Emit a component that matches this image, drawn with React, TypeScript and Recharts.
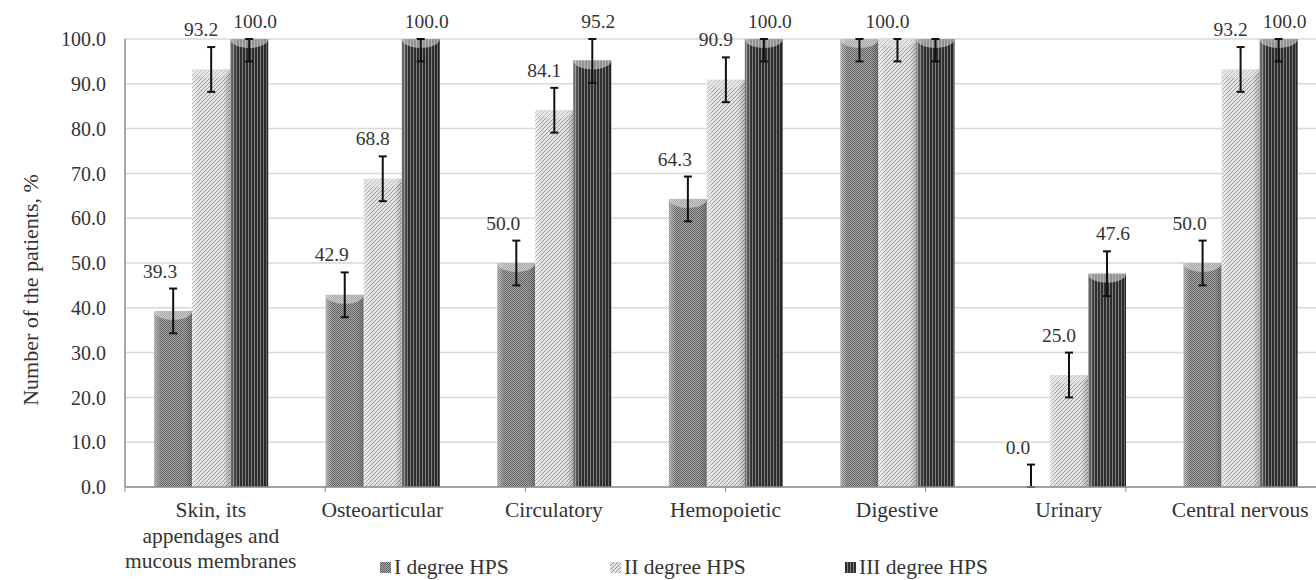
import React from "react";
import {
  BarChart,
  Bar,
  XAxis,
  YAxis,
  CartesianGrid,
  ErrorBar,
  LabelList,
  Legend,
} from "recharts";

const categories = [
  "Skin, its\nappendages and\nmucous membranes",
  "Osteoarticular",
  "Circulatory",
  "Hemopoietic",
  "Digestive",
  "Urinary",
  "Central nervous",
];
const degreeI = [39.3, 42.9, 50.0, 64.3, 100.0, 0.0, 50.0];
const degreeII = [93.2, 68.8, 84.1, 90.9, 100.0, 25.0, 93.2];
const degreeIII = [100.0, 100.0, 95.2, 100.0, 100.0, 47.6, 100.0];
const errorMargin = 5;
const yTicks = [0, 10, 20, 30, 40, 50, 60, 70, 80, 90, 100];
const edgeTicks = [0, 1, 2, 3, 4, 5, 6, 7];
const seriesNames = ["I degree HPS", "II degree HPS", "III degree HPS"];

const W = 1326;
const H = 580;
const TOP = 39;
const X_AXIS_H = 92;
const PLOT_H = H - TOP - X_AXIS_H - 1;
const PPU = PLOT_H / 100;
const FONT = "Liberation Serif, DejaVu Serif, serif";
const TEXT = "#333";

// error bars are clipped to the 0..100 range like in the original
const err = (v: number) => [Math.min(errorMargin, v), Math.min(errorMargin, 100 - v)];

const data = categories.map((name, i) => ({
  name,
  i: degreeI[i],
  ii: degreeII[i],
  iii: degreeIII[i],
  ei: err(degreeI[i]),
  eii: err(degreeII[i]),
  eiii: err(degreeIII[i]),
}));

const CylBar = (props: any) => {
  const { x, y, width, height, fill } = props;
  if (!height || height <= 0) return null;
  const ry = Math.min(9, height);
  return (
    <g>
      <rect x={x} y={y} width={width} height={height} fill={fill} />
      <rect x={x} y={y} width={width} height={height} fill="url(#shade)" />
      <path
        d={`M${x},${y} A${width / 2},${ry} 0 0 0 ${x + width},${y} Z`}
        fill="#e6e6e6"
        opacity={0.55}
      />
    </g>
  );
};

// labels sit a little off the bar centre so they clear the error bars
const labelShift: Record<string, number> = { i: -13, ii: -10, iii: 6 };

const makeLabel = (key: string) => (props: any) => {
  const { x, y, width, value, index } = props;
  if (categories[index] === "Digestive" && key !== "ii") return null;
  const up = Math.min(errorMargin, 100 - Number(value));
  return (
    <text
      x={x + width / 2 + labelShift[key]}
      y={y - up * PPU - 11}
      textAnchor="middle"
      fontSize={19.5}
      fontFamily={FONT}
      fill={TEXT}
    >
      {Number(value).toFixed(1)}
    </text>
  );
};

const CatTick = ({ x, y, payload }: any) => {
  const lines = String(payload.value).split("\n");
  return (
    <text x={x} y={y} textAnchor="middle" fontSize={21.5} fontFamily={FONT} fill={TEXT}>
      {lines.map((l, i) => (
        <tspan key={i} x={x} dy={i === 0 ? 29 : 25.5}>
          {l}
        </tspan>
      ))}
    </text>
  );
};

const legendFills = ["url(#pI)", "url(#pII)", "url(#pIII)"];
const legendLeft = [380, 610, 845];

const LegendBox = () => (
  <div style={{ position: "relative", height: 24 }}>
    {seriesNames.map((n, i) => (
      <div
        key={n}
        style={{
          position: "absolute",
          left: legendLeft[i],
          top: 0,
          display: "flex",
          alignItems: "center",
          fontFamily: FONT,
          fontSize: 21.5,
          color: TEXT,
          lineHeight: "24px",
          whiteSpace: "nowrap",
        }}
      >
        <svg width={11} height={11} style={{ marginRight: 3 }}>
          <rect width={11} height={11} fill={legendFills[i]} />
        </svg>
        {n}
      </div>
    ))}
  </div>
);

export default function App() {
  return (
    <div style={{ position: "absolute", left: 0, top: 0, width: 1316, height: 580, overflow: "hidden", background: "#fff" }}>
      <BarChart
        width={W}
        height={H}
        data={data}
        margin={{ top: TOP, right: 0, bottom: 0, left: 0 }}
        barCategoryGap="17%"
        barGap={0}
      >
        <defs>
          <pattern id="pI" width="2" height="2" patternUnits="userSpaceOnUse">
            <rect width="2" height="2" fill="#a6a6a6" />
            <rect width="1" height="1" fill="#626262" />
            <rect x="1" y="1" width="1" height="1" fill="#626262" />
          </pattern>
          <pattern id="pII" width="4" height="4" patternUnits="userSpaceOnUse">
            <rect width="4" height="4" fill="#e2e2e2" />
            <path d="M-1,1 L1,-1 M0,4 L4,0 M3,5 L5,3" stroke="#9a9a9a" strokeWidth="1" />
          </pattern>
          <pattern id="pIII" width="3" height="3" patternUnits="userSpaceOnUse">
            <rect width="3" height="3" fill="#2e2e2e" />
            <rect x="2" width="1" height="3" fill="#7c7c7c" />
          </pattern>
          <linearGradient id="shade" x1="0" y1="0" x2="1" y2="0">
            <stop offset="0%" stopColor="#fff" stopOpacity={0.35} />
            <stop offset="18%" stopColor="#fff" stopOpacity={0} />
            <stop offset="82%" stopColor="#000" stopOpacity={0} />
            <stop offset="100%" stopColor="#000" stopOpacity={0.2} />
          </linearGradient>
        </defs>
        <CartesianGrid vertical={false} stroke="#d9d9d9" strokeWidth={1.5} />
        <XAxis
          type="number"
          domain={[0, 7]}
          ticks={edgeTicks}
          allowDataOverflow
          height={1}
          tickSize={5}
          tickFormatter={() => ""}
          stroke="#8c8c8c"
          axisLine={{ stroke: "#8c8c8c", strokeWidth: 1.5 }}
          tickLine={{ stroke: "#8c8c8c" }}
        />
        <XAxis
          xAxisId="cat"
          dataKey="name"
          height={X_AXIS_H}
          axisLine={false}
          tickLine={false}
          tickSize={0}
          tickMargin={0}
          interval={0}
          tick={<CatTick />}
        />
        <YAxis
          domain={[0, 100]}
          ticks={yTicks}
          width={125}
          tickFormatter={(v: number) => v.toFixed(1)}
          tick={{ fontSize: 20, fontFamily: FONT, fill: TEXT }}
          tickLine={false}
          tickSize={6}
          tickMargin={13}
          axisLine={{ stroke: "#8c8c8c", strokeWidth: 1.5 }}
          allowDataOverflow
        />
        <Legend
          layout="horizontal"
          verticalAlign="middle"
          align="center"
          wrapperStyle={{ top: 555, left: 0, width: W, height: 24 }}
          content={() => <LegendBox />}
        />
        <Bar xAxisId="cat" dataKey="i" name={seriesNames[0]} fill="url(#pI)" shape={<CylBar />} isAnimationActive={false}>
          <ErrorBar dataKey="ei" direction="y" width={4} stroke="#111" strokeWidth={2} />
          <LabelList dataKey="i" content={makeLabel("i")} />
        </Bar>
        <Bar xAxisId="cat" dataKey="ii" name={seriesNames[1]} fill="url(#pII)" shape={<CylBar />} isAnimationActive={false}>
          <ErrorBar dataKey="eii" direction="y" width={4} stroke="#111" strokeWidth={2} />
          <LabelList dataKey="ii" content={makeLabel("ii")} />
        </Bar>
        <Bar xAxisId="cat" dataKey="iii" name={seriesNames[2]} fill="url(#pIII)" shape={<CylBar />} isAnimationActive={false}>
          <ErrorBar dataKey="eiii" direction="y" width={4} stroke="#111" strokeWidth={2} />
          <LabelList dataKey="iii" content={makeLabel("iii")} />
        </Bar>
      </BarChart>
      <svg style={{ position: "absolute", left: 0, top: 0, pointerEvents: "none" }} width={1316} height={580}>
        <text
          transform="rotate(-90, 30, 290)"
          x={30}
          y={290}
          textAnchor="middle"
          dominantBaseline="central"
          fontSize={22}
          fontFamily={FONT}
          fill={TEXT}
        >
          Number of the patients, %
        </text>
      </svg>
    </div>
  );
}
